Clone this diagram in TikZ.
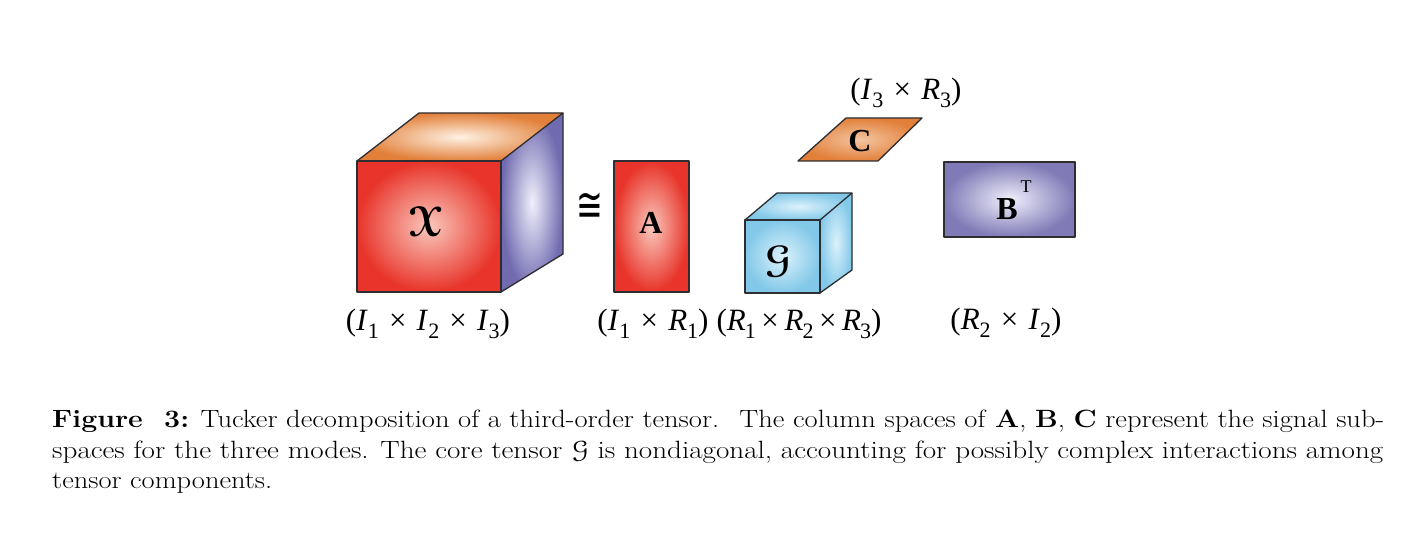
\documentclass[tikz,border=0pt]{standalone}
\usepackage{amsmath,amssymb}
\usepackage{eucal}
\usepackage{bm}
\usepackage{graphicx}
\usepackage{fontspec}
\newfontfamily\labfont{Liberation Serif}
\newfontfamily\symfont{DejaVu Sans}
\definecolor{xred}{RGB}{232,52,42}
\definecolor{xredin}{RGB}{250,200,188}
\definecolor{xorange}{RGB}{226,128,58}
\definecolor{xorangein}{RGB}{255,242,228}
\definecolor{xpurple}{RGB}{112,106,175}
\definecolor{xpurplein}{RGB}{240,240,252}
\definecolor{bpurple}{RGB}{128,122,182}
\definecolor{xblue}{RGB}{130,200,232}
\definecolor{xbluein}{RGB}{220,242,252}
\definecolor{edgecol}{RGB}{45,45,50}
\newcommand\mysub[1]{\raisebox{-0.24em}{\fontsize{22}{22}\selectfont #1}}
\newcommand\ksub[1]{\kern-0.03em\mysub{#1}}
\newcommand\mytimes{\hspace{0.33em}×\hspace{0.33em}}
\newcommand\ktimes{\hspace{0.18em}×\hspace{0.18em}}
\tikzset{
  edge/.style={draw=edgecol, line width=1.3pt, line join=round},
  lab/.style={font=\labfont\fontsize{31}{33}\selectfont, anchor=base, inner sep=0pt},
  big/.style={inner sep=0pt},
  letter/.style={inner sep=0pt, font=\labfont\bfseries\fontsize{32}{32}\selectfont},
  capline/.style={anchor=base west, inner sep=0pt, font=\fontsize{25}{30}\selectfont}
}
\begin{document}
\begin{tikzpicture}[x=1pt,y=-1pt]
\useasboundingbox (0,0) rectangle (1428,534);
\fill[white] (0,0) rectangle (1428,534);
% ---- big cube X
\shade[inner color=xredin, outer color=xred] (357,161) -- (501,161) -- (501,292) -- (357,292) -- cycle;
\shade[inner color=xorangein, outer color=xorange] (357,161) -- (419,113) -- (563,113) -- (501,161) -- cycle;
\shade[inner color=xpurplein, outer color=xpurple] (501,161) -- (563,113) -- (563,254) -- (501,292) -- cycle;
\draw[edge] (357,161) -- (501,161) -- (501,292) -- (357,292) -- cycle;
\draw[edge] (357,161) -- (419,113) -- (563,113) -- (501,161);
\draw[edge] (563,113) -- (563,254) -- (501,292);
\node[big, font=\fontsize{42}{42}\selectfont] (X) at (426,222) {$\bm{\mathcal{X}}$};
\node[lab] (xdim) at (428,331) {(\textit{I}\mysub{1}\mytimes\textit{I}\mysub{2}\mytimes\textit{I}\mysub{3})};
% ---- congruent
\node[big] (cong) at (590,207) {\scalebox{1}[1.5]{\symfont\fontsize{32}{32}\selectfont ≅}};
% ---- A
\shade[inner color=xredin, outer color=xred] (614,161) rectangle (689,292);
\draw[edge] (614,161) rectangle (689,292);
\node[letter] (A) at (651,223) {A};
\node[lab] (adim) at (653,331) {(\textit{I}\mysub{1}\mytimes\textit{R}\mysub{1})};
% ---- core G
\shade[inner color=xbluein, outer color=xblue] (745,220) -- (820,220) -- (820,293) -- (745,293) -- cycle;
\shade[inner color=xbluein, outer color=xblue] (745,220) -- (777,193) -- (852,193) -- (820,220) -- cycle;
\shade[inner color=xbluein, outer color=xblue] (820,220) -- (852,193) -- (852,270) -- (820,293) -- cycle;
\draw[edge] (745,220) -- (820,220) -- (820,293) -- (745,293) -- cycle;
\draw[edge] (745,220) -- (777,193) -- (852,193) -- (820,220);
\draw[edge] (852,193) -- (852,270) -- (820,293);
\node[big, font=\fontsize{38}{38}\selectfont] (G) at (778,262) {$\bm{\mathcal{G}}$};
\node[lab] (gdim) at (799,331) {(\textit{R}\ksub{1}\ktimes\textit{R}\ksub{2}\ktimes\textit{R}\ksub{3})};
% ---- C
\shade[inner color=xorangein!60!xorange, outer color=xorange] (798,161) -- (878,161) -- (922,118) -- (846,118) -- cycle;
\draw[edge] (798,161) -- (878,161) -- (922,118) -- (846,118) -- cycle;
\node[letter] (C) at (860,141) {C};
\node[lab] (cdim) at (906,100) {(\textit{I}\mysub{3}\mytimes\textit{R}\mysub{3})};
% ---- B^T
\shade[inner color=xpurplein, outer color=bpurple] (944,162) rectangle (1075,237);
\draw[edge] (944,162) rectangle (1075,237);
\node[letter] (B) at (1007,209) {B};
\node[big] (T) at (1026,187) {\labfont\fontsize{18}{18}\selectfont T};
\node[lab] (bdim) at (1006,330) {(\textit{R}\mysub{2}\mytimes\textit{I}\mysub{2})};
% ---- caption
\node[capline] (cap1) at (52,428) {\resizebox{1332pt}{\height}{\textbf{Figure\ \ 3:} Tucker decomposition of a third-order tensor. \ The column spaces of \textbf{A}, \textbf{B}, \textbf{C} represent the signal sub-}};
\node[capline] (cap2) at (52,459) {\resizebox{1331pt}{\height}{spaces for the three modes. The core tensor $\mathcal{G}$ is nondiagonal, accounting for possibly complex interactions among}};
\node[capline] (cap3) at (52,489) {\resizebox{220pt}{\height}{tensor components.}};
\end{tikzpicture}
\end{document}
